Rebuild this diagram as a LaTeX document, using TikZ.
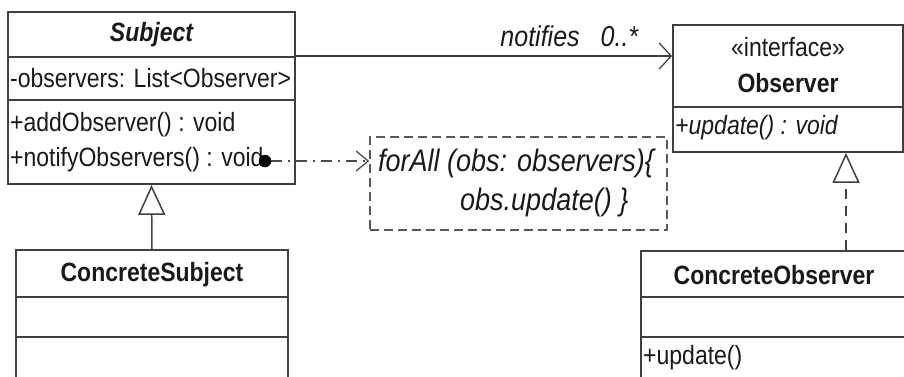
\documentclass[tikz,border=0pt]{standalone}
\usepackage{fontspec}
\setmainfont{Liberation Sans}
\usepackage{graphicx}
\usetikzlibrary{arrows.meta}
\newcommand\vst[1]{\scalebox{1}[1.15]{#1}}
\begin{document}
\begin{tikzpicture}[x=1pt,y=-1pt,
  uml/.style={draw=black!75, line width=1.8pt, rectangle, inner sep=0pt},
  div/.style={draw=black!75, line width=1.8pt},
  lbl/.style={font=\fontsize{23}{26}\selectfont, text=black!90, inner sep=0pt},
  lblb/.style={lbl, font=\fontsize{23}{26}\selectfont\bfseries},
  lbli/.style={lbl, font=\fontsize{23}{26}\selectfont\itshape},
  lblbi/.style={lbl, font=\fontsize{23}{26}\selectfont\bfseries\itshape},
  notetxt/.style={lbl, font=\fontsize{27}{30}\selectfont\itshape},
  notebox/.style={draw=black!65, line width=1.6pt, dash pattern=on 9pt off 5pt, rectangle, inner sep=0pt},
  gen/.style={draw=black!75, line width=1.5pt, -{Triangle[open, fill=white, length=30pt, width=27pt]}},
  real/.style={gen, dash pattern=on 10pt off 7pt},
  assoc/.style={draw=black!75, line width=1.8pt, -{Straight Barb[length=12pt, width=26pt, line width=1.3pt]}},
  depend/.style={draw=black!70, line width=1.5pt, dash pattern=on 11pt off 6pt on 2pt off 6pt, -{Straight Barb[length=12pt, width=20pt, line width=1.3pt]}},
  blob/.style={circle, draw=black, fill=black, line width=0.5pt, inner sep=0pt, minimum size=12pt}]
\useasboundingbox (0,0) rectangle (904,376);
\clip (0,0) rectangle (904,376);

% Subject
\node[uml, minimum width=287pt, minimum height=172pt] (subj) at (151.5,98) {};
\draw[div] (8,57) -- (295,57);
\draw[div] (8,100) -- (295,100);
\node[lblbi] (subjname) at (151.5,35) {\vst{Subject}};
\node[lbl, anchor=west] (subjattr) at (10,78) {\vst{-observers: List<Observer>}};
\node[lbl, anchor=west] (subjop1) at (10,125) {\vst{+addObserver() : void}};
\node[lbl, anchor=west] (subjop2) at (10,160) {\vst{+notifyObservers() : void}};

% ConcreteSubject
\node[uml, minimum width=272pt, minimum height=150pt] (csub) at (152,325) {};
\draw[div] (16,297) -- (288,297);
\draw[div] (16,337) -- (288,337);
\node[lblb] (csubname) at (152,275) {\vst{ConcreteSubject}};

% Observer
\node[uml, minimum width=230pt, minimum height=127pt] (obs) at (788,88.5) {};
\draw[div] (673,107) -- (903,107);
\node[lbl] (obsst) at (788,47) {\vst{«interface»}};
\node[lblb] (obsname) at (788,83) {\vst{Observer}};
\node[lbli, anchor=west] (obsop) at (675,128) {\vst{+update() : void}};

% ConcreteObserver
\node[uml, minimum width=266pt, minimum height=149pt] (cobs) at (774,325.5) {};
\draw[div] (641,297) -- (907,297);
\draw[div] (641,337) -- (907,337);
\node[lblb] (cobsname) at (774,275) {\vst{ConcreteObserver}};
\node[lbl, anchor=west] (cobsop) at (643,358) {\vst{+update()}};

% Note
\node[notebox, minimum width=297pt, minimum height=93pt] (note) at (518.5,183.5) {};
\node[notetxt, anchor=west] (note1) at (378,163) {\vst{forAll (obs: observers)\{}};
\node[notetxt, anchor=west] (note2) at (460,202) {\vst{obs.update() \}}};

% Connectors
\coordinate (aline) at (295,56);
\draw[assoc] (subj.east |- aline) -- (obs.west |- aline)
  node[pos=1, anchor=south east, xshift=-33pt, yshift=8pt, lbl, font=\fontsize{25}{28}\selectfont\itshape] (assoclbl) {\vst{notifies\hspace{21pt}0..*}};

\draw[gen] (csub.north) -- (subj.south);

\coordinate (rx) at (846,152);
\draw[real] (rx |- cobs.north) -- (rx |- obs.south);

\node[blob] (dot) at (265,161) {};
\draw[depend] (dot.east) -- (note.west |- dot);
\end{tikzpicture}
\end{document}
